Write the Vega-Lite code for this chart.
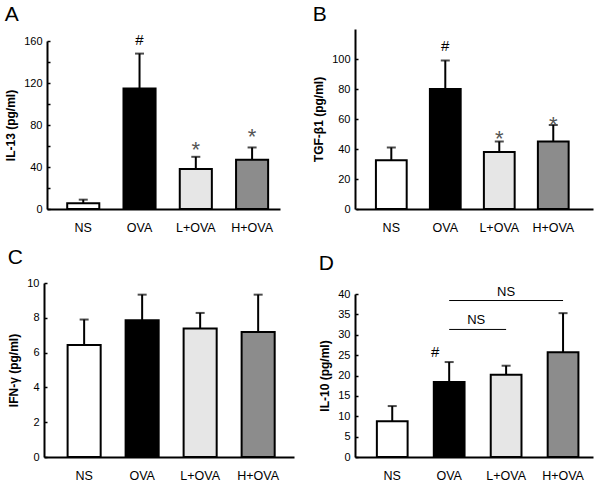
{
  "$schema": "https://vega.github.io/schema/vega-lite/v6.json",
  "padding": {"left": 4, "top": 4, "right": 5, "bottom": 0},
  "background": "white",
  "datasets": {
    "bars": [
      {"panel": "A", "group": "NS", "mean": 5.4, "upper": 8.9},
      {"panel": "A", "group": "OVA", "mean": 114.7, "upper": 148},
      {"panel": "A", "group": "L+OVA", "mean": 38, "upper": 49.7},
      {"panel": "A", "group": "H+OVA", "mean": 46.9, "upper": 58.6},
      {"panel": "B", "group": "NS", "mean": 32.5, "upper": 41},
      {"panel": "B", "group": "OVA", "mean": 80, "upper": 99},
      {"panel": "B", "group": "L+OVA", "mean": 38, "upper": 45},
      {"panel": "B", "group": "H+OVA", "mean": 45, "upper": 56},
      {"panel": "C", "group": "NS", "mean": 6.43, "upper": 7.9},
      {"panel": "C", "group": "OVA", "mean": 7.86, "upper": 9.33},
      {"panel": "C", "group": "L+OVA", "mean": 7.39, "upper": 8.28},
      {"panel": "C", "group": "H+OVA", "mean": 7.19, "upper": 9.33},
      {"panel": "D", "group": "NS", "mean": 8.8, "upper": 12.5},
      {"panel": "D", "group": "OVA", "mean": 18.4, "upper": 23.3},
      {"panel": "D", "group": "L+OVA", "mean": 20.2, "upper": 22.4},
      {"panel": "D", "group": "H+OVA", "mean": 25.7, "upper": 35.3}
    ],
    "marks": [
      {"panel": "A", "group": "OVA", "mean": 161, "sym": "#"},
      {"panel": "A", "group": "L+OVA", "mean": 62, "sym": "*"},
      {"panel": "A", "group": "H+OVA", "mean": 74, "sym": "*"},
      {"panel": "B", "group": "OVA", "mean": 109, "sym": "#"},
      {"panel": "B", "group": "L+OVA", "mean": 51, "sym": "*"},
      {"panel": "B", "group": "H+OVA", "mean": 60, "sym": "*"},
      {"panel": "D", "group": "OVA", "mean": 25.7, "sym": "#"}
    ],
    "brackets": [
      {"group": "OVA", "to": "H+OVA", "mean": 38.4, "label": "NS", "mid": "L+OVA", "level": "upper"},
      {"group": "OVA", "to": "L+OVA", "mean": 31.3, "label": "NS", "mid": "OVA", "level": "lower"}
    ]
  },
  "config": {
    "view": {"stroke": null},
    "font": "Liberation Sans",
    "axis": {
      "grid": false,
      "domainColor": "black",
      "labelColor": "black",
      "titleColor": "black",
      "labelFont": "Liberation Sans",
      "titleFont": "Liberation Sans",
      "labelOverlap": false,
      "labelFlush": false
    },
    "axisX": {"domainWidth": 2, "ticks": false, "labelFontSize": 12.5, "labelPadding": 12, "labelAngle": 0, "title": null},
    "axisY": {"domainWidth": 2, "tickSize": -3, "tickWidth": 1.5, "tickColor": "black", "labelFontSize": 11, "labelPadding": 8, "titleFontSize": 12, "titleFontWeight": "bold", "titlePadding": 6},
    "title": {"fontSize": 21, "fontWeight": "normal", "anchor": "start", "frame": "bounds", "color": "black", "font": "Liberation Sans"}
  },
  "columns": 2,
  "spacing": {"row": 13, "column": 18},
  "concat": [
    {
      "title": {"text": "A", "offset": 4},
      "width": 250, "height": 180,
      "data": {"name": "bars"},
      "transform": [{"filter": "datum.panel === 'A'"}],
      "encoding": {
        "x": {"field": "group", "type": "nominal", "scale": {"domain": ["NS", "OVA", "L+OVA", "H+OVA"], "range": [3, 236], "paddingInner": 0.43, "paddingOuter": 0.285, "align": 0.63}},
        "y": {"field": "mean", "type": "quantitative", "title": "IL-13 (pg/ml)", "scale": {"domain": [0, 160], "range": [180, 12], "nice": false, "zero": true}, "axis": {"offset": -3, "labelOverlap": false, "values": [0, 20, 40, 60, 80, 100, 120, 140, 160], "labelExpr": "datum.value % 40 === 0 ? datum.label : ''"}}
      },
      "layer": [
        {"mark": {"type": "rule", "strokeWidth": 2, "color": "black"}, "encoding": {"y2": {"field": "upper"}}},
        {"mark": {"type": "tick", "thickness": 2, "size": 9, "color": "black"}, "encoding": {"y": {"field": "upper", "type": "quantitative", "title": "IL-13 (pg/ml)"}}},
        {"mark": {"type": "bar", "stroke": "black", "strokeWidth": 2}, "encoding": {
          "fill": {"field": "group", "type": "nominal", "scale": {"domain": ["NS", "OVA", "L+OVA", "H+OVA"], "range": ["white", "black", "#e6e6e6", "#8c8c8c"]}, "legend": null}
        }},
        {"data": {"name": "marks"}, "transform": [{"filter": "datum.panel === 'A' && datum.sym === '#'"}], "mark": {"type": "text", "fontSize": 15, "baseline": "middle", "color": "black"}, "encoding": {"text": {"field": "sym"}}},
        {"data": {"name": "marks"}, "transform": [{"filter": "datum.panel === 'A' && datum.sym === '*'"}], "mark": {"type": "text", "fontSize": 22, "baseline": "middle", "dy": 6, "color": "#555555"}, "encoding": {"text": {"field": "sym"}}}
      ]
    },
    {
      "title": {"text": "B", "offset": 4},
      "width": 238, "height": 180,
      "data": {"name": "bars"},
      "transform": [{"filter": "datum.panel === 'B'"}],
      "encoding": {
        "x": {"field": "group", "type": "nominal", "scale": {"domain": ["NS", "OVA", "L+OVA", "H+OVA"], "range": [1, 238], "paddingInner": 0.43, "paddingOuter": 0.41, "align": 0.45}},
        "y": {"field": "mean", "type": "quantitative", "title": "TGF-β1 (pg/ml)", "scale": {"domain": [0, 120], "range": [180, 0], "nice": false}, "axis": {"labelOverlap": false, "values": [0, 20, 40, 60, 80, 100]}}
      },
      "layer": [
        {"mark": {"type": "rule", "strokeWidth": 2, "color": "black"}, "encoding": {"y2": {"field": "upper"}}},
        {"mark": {"type": "tick", "thickness": 2, "size": 9, "color": "black"}, "encoding": {"y": {"field": "upper", "type": "quantitative", "title": "TGF-β1 (pg/ml)"}}},
        {"mark": {"type": "bar", "stroke": "black", "strokeWidth": 2}, "encoding": {
          "fill": {"field": "group", "type": "nominal", "scale": {"domain": ["NS", "OVA", "L+OVA", "H+OVA"], "range": ["white", "black", "#e6e6e6", "#8c8c8c"]}, "legend": null}
        }},
        {"data": {"name": "marks"}, "transform": [{"filter": "datum.panel === 'B' && datum.sym === '#'"}], "mark": {"type": "text", "fontSize": 15, "baseline": "middle", "color": "black"}, "encoding": {"text": {"field": "sym"}}},
        {"data": {"name": "marks"}, "transform": [{"filter": "datum.panel === 'B' && datum.sym === '*'"}], "mark": {"type": "text", "fontSize": 22, "baseline": "middle", "dy": 6, "color": "#555555"}, "encoding": {"text": {"field": "sym"}}}
      ]
    },
    {
      "title": {"text": "C", "offset": 9},
      "width": 250, "height": 174,
      "data": {"name": "bars"},
      "transform": [{"filter": "datum.panel === 'C'"}],
      "encoding": {
        "x": {"field": "group", "type": "nominal", "scale": {"domain": ["NS", "OVA", "L+OVA", "H+OVA"], "range": [0, 250], "paddingInner": 0.43, "paddingOuter": 0.37, "align": 0.55}},
        "y": {"field": "mean", "type": "quantitative", "title": "IFN-γ (pg/ml)", "scale": {"domain": [0, 10], "range": [174, 0], "nice": false}, "axis": {"labelOverlap": false, "values": [0, 2, 4, 6, 8, 10]}}
      },
      "layer": [
        {"mark": {"type": "rule", "strokeWidth": 2, "color": "black"}, "encoding": {"y2": {"field": "upper"}}},
        {"mark": {"type": "tick", "thickness": 2, "size": 9, "color": "black"}, "encoding": {"y": {"field": "upper", "type": "quantitative", "title": "IFN-γ (pg/ml)"}}},
        {"mark": {"type": "bar", "stroke": "black", "strokeWidth": 2}, "encoding": {
          "fill": {"field": "group", "type": "nominal", "scale": {"domain": ["NS", "OVA", "L+OVA", "H+OVA"], "range": ["white", "black", "#e6e6e6", "#8c8c8c"]}, "legend": null}
        }}
      ]
    },
    {
      "title": {"text": "D", "offset": 9},
      "width": 238, "height": 174,
      "data": {"name": "bars"},
      "transform": [{"filter": "datum.panel === 'D'"}],
      "encoding": {
        "x": {"field": "group", "type": "nominal", "scale": {"domain": ["NS", "OVA", "L+OVA", "H+OVA"], "range": [0, 238], "paddingInner": 0.46, "paddingOuter": 0.32, "align": 0.6}},
        "y": {"field": "mean", "type": "quantitative", "title": "IL-10 (pg/ml)", "scale": {"domain": [0, 40], "range": [174, 11], "nice": false}, "axis": {"labelOverlap": false, "values": [0, 5, 10, 15, 20, 25, 30, 35, 40]}}
      },
      "layer": [
        {"mark": {"type": "rule", "strokeWidth": 2, "color": "black"}, "encoding": {"y2": {"field": "upper"}}},
        {"mark": {"type": "tick", "thickness": 2, "size": 9, "color": "black"}, "encoding": {"y": {"field": "upper", "type": "quantitative", "title": "IL-10 (pg/ml)"}}},
        {"mark": {"type": "bar", "stroke": "black", "strokeWidth": 2}, "encoding": {
          "fill": {"field": "group", "type": "nominal", "scale": {"domain": ["NS", "OVA", "L+OVA", "H+OVA"], "range": ["white", "black", "#e6e6e6", "#8c8c8c"]}, "legend": null}
        }},
        {"data": {"name": "marks"}, "transform": [{"filter": "datum.panel === 'D'"}], "mark": {"type": "text", "fontSize": 15, "baseline": "middle", "dx": -14, "color": "black"}, "encoding": {"text": {"field": "sym"}}},
        {"data": {"name": "brackets"}, "mark": {"type": "rule", "strokeWidth": 1, "color": "black"}, "encoding": {"x2": {"field": "to"}}},
        {"data": {"name": "brackets"}, "transform": [{"filter": "datum.level === 'upper'"}], "mark": {"type": "text", "fontSize": 13, "baseline": "bottom", "dy": -2, "color": "black"}, "encoding": {"x": {"field": "mid", "type": "nominal"}, "text": {"field": "label"}}},
        {"data": {"name": "brackets"}, "transform": [{"filter": "datum.level === 'lower'"}], "mark": {"type": "text", "fontSize": 13, "baseline": "bottom", "dy": -2, "dx": 27, "color": "black"}, "encoding": {"x": {"field": "mid", "type": "nominal"}, "text": {"field": "label"}}}
      ]
    }
  ]
}
